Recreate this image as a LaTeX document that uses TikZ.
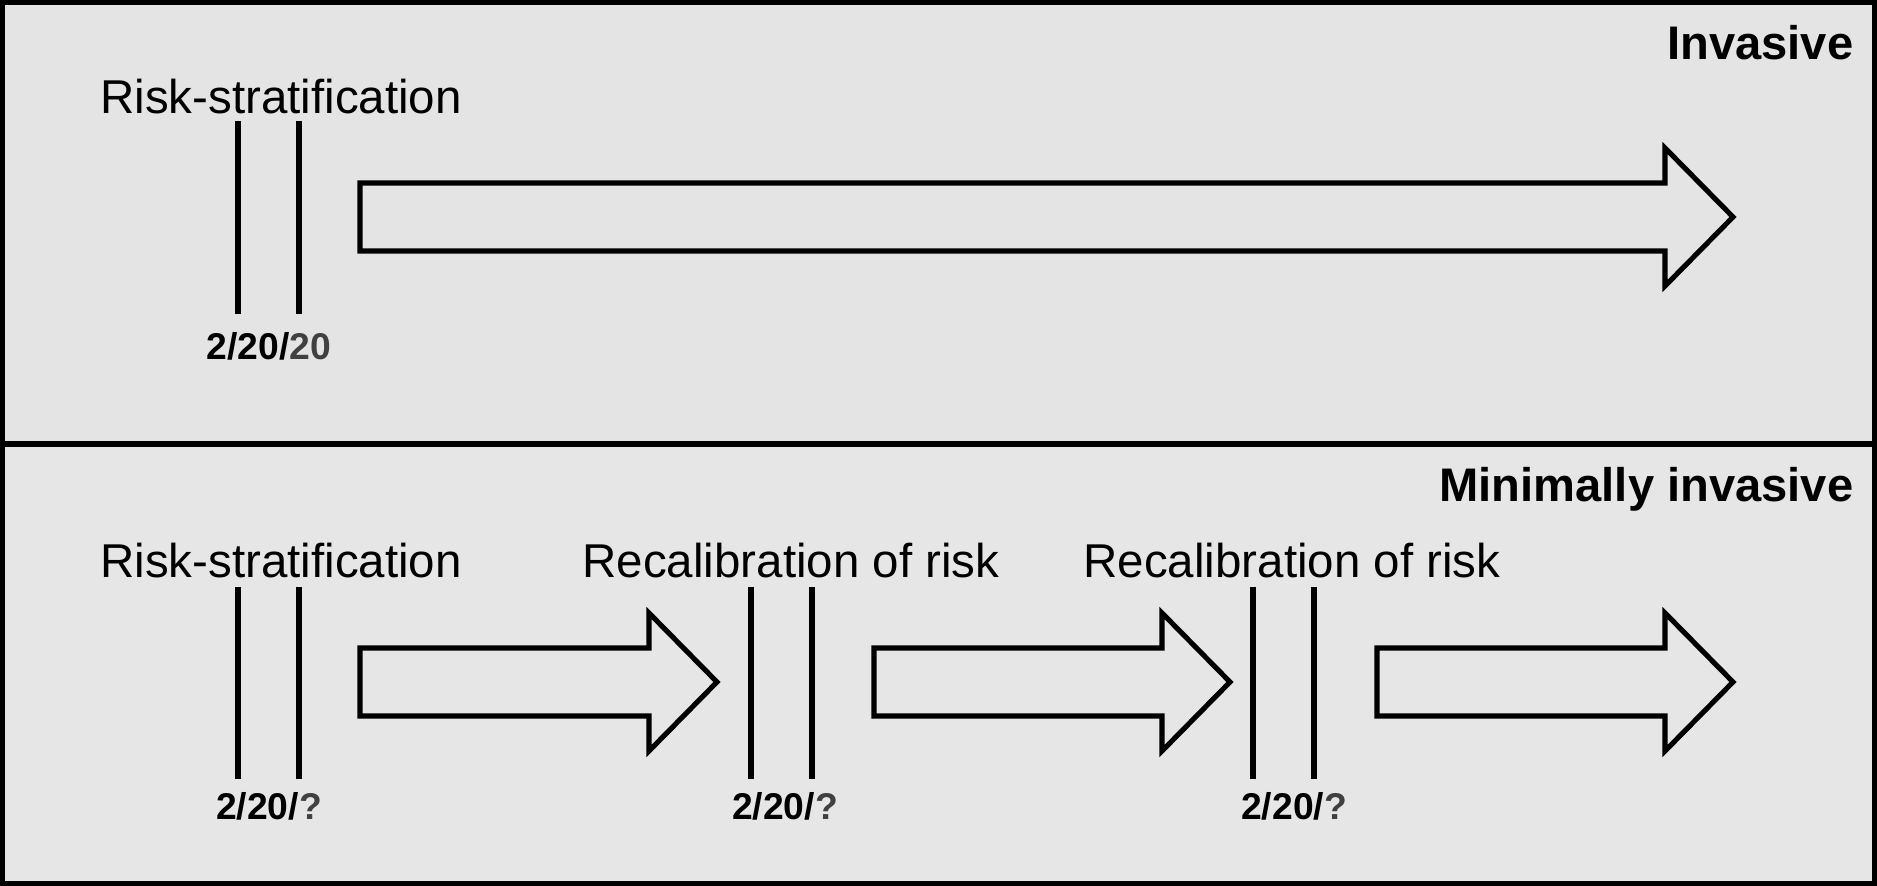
\documentclass[tikz,border=0pt]{standalone}
\usepackage{fontspec}
\setmainfont{Liberation Sans}
\usetikzlibrary{positioning}

\definecolor{panelgray}{HTML}{E4E4E4}
\definecolor{panelgrayb}{HTML}{E6E6E6}
\definecolor{qgray}{HTML}{404040}

\tikzset{
  panel/.style={line width=1.5pt},
  title/.style={inner sep=0pt,font=\fontsize{13.4}{16}\selectfont\bfseries},
  phase/.style={inner sep=0pt,font=\fontsize{13.5}{16}\selectfont},
  score/.style={inner sep=0pt,font=\fontsize{10.6}{12}\selectfont\bfseries},
  bar/.style={line width=1.45pt},
  fatarrow/.style={line width=1.45pt,line join=miter}
}

% block arrow: start x, head base x, centre y
\newcommand{\fatarrow}[3]{%
\draw[fatarrow] (#1,#3-34) -- (#2,#3-34) -- (#2,#3-69) -- (#2+68,#3)
  -- (#2,#3+69) -- (#2,#3+34) -- (#1,#3+34) -- cycle;}

\begin{document}
\begin{tikzpicture}[x=0.01cm,y=-0.01cm]
\useasboundingbox (0,0) rectangle (1877,886);
% panels
\fill[panelgray] (0,0) rectangle (1877,444);
\fill[panelgrayb] (0,444) rectangle (1877,886);
\draw[panel] (2.6,2.6) rectangle (1874.4,444);
\draw[panel] (2.6,444) rectangle (1874.4,883.4);
\node[title,anchor=base east] (inv) at (1854,60) {Invasive};
\node[title,anchor=base east] (mininv) at (1854,502) {Minimally invasive};

% invasive
\node[phase,anchor=base] (rs1) at (281,114) {Risk-stratification};
\draw[bar] (238,121) -- (238,314);
\draw[bar] (299,121) -- (299,314);
\node[score,anchor=base] (sc1) at (269,360) {2/20/\textcolor{qgray}{20}};
\fatarrow{360}{1665}{217}

% minimally invasive
\node[phase,anchor=base] (rs2) at (281,578) {Risk-stratification};
\node[phase,anchor=base] (rc1) at (791,578) {Recalibration of risk};
\node[phase,anchor=base] (rc2) at (1292,578) {Recalibration of risk};
\foreach \xa/\xb in {238/299,751/812,1253/1314}{
  \draw[bar] (\xa,587) -- (\xa,779);
  \draw[bar] (\xb,587) -- (\xb,779);
}
\node[score,anchor=base] (sc2) at (269,819) {2/20/\textcolor{qgray}{?}};
\node[score,anchor=base] (sc3) at (785,819) {2/20/\textcolor{qgray}{?}};
\node[score,anchor=base] (sc4) at (1294,819) {2/20/\textcolor{qgray}{?}};
\fatarrow{360}{649}{682}
\fatarrow{874}{1162}{682}
\fatarrow{1377}{1665}{682}
\end{tikzpicture}
\end{document}
